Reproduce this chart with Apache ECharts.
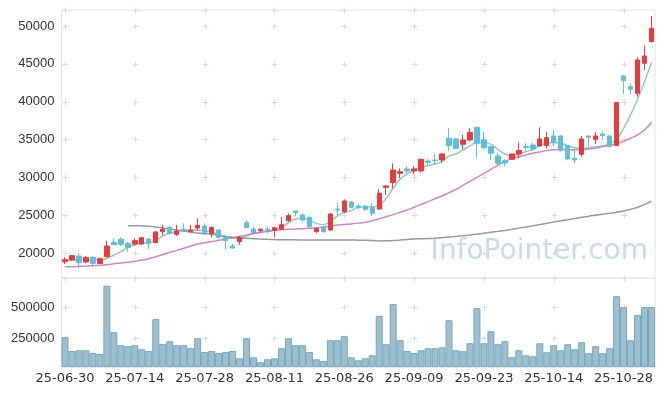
<!DOCTYPE html>
<html><head><meta charset="utf-8">
<script src="https://cdn.jsdelivr.net/npm/echarts@6/dist/echarts.min.js"></script>
<style>html,body{margin:0;padding:0;background:#fff}#c{width:665px;height:396px}</style>
</head><body><div id="c"></div>
<script>
const dates = ['25-06-30','25-07-01','25-07-02','25-07-03','25-07-04','25-07-07','25-07-08','25-07-09','25-07-10','25-07-11',
'25-07-14','25-07-15','25-07-16','25-07-17','25-07-18','25-07-21','25-07-22','25-07-23','25-07-24','25-07-25',
'25-07-28','25-07-29','25-07-30','25-07-31','25-08-01','25-08-04','25-08-05','25-08-06','25-08-07','25-08-08',
'25-08-11','25-08-12','25-08-13','25-08-14','25-08-18','25-08-19','25-08-20','25-08-21','25-08-22','25-08-25',
'25-08-26','25-08-27','25-08-28','25-08-29','25-09-01','25-09-02','25-09-03','25-09-04','25-09-05','25-09-08',
'25-09-09','25-09-10','25-09-11','25-09-12','25-09-15','25-09-16','25-09-17','25-09-18','25-09-19','25-09-22',
'25-09-23','25-09-24','25-09-25','25-09-26','25-09-29','25-09-30','25-10-01','25-10-02','25-10-10','25-10-13',
'25-10-14','25-10-15','25-10-16','25-10-17','25-10-20','25-10-21','25-10-22','25-10-23','25-10-24','25-10-27',
'25-10-28','25-10-29','25-10-30','25-10-31','25-11-03'];

const open = [18850,19080,19600,18810,19430,18630,19520,21410,21810,21280,
21190,21190,21850,21370,22820,23390,22470,23130,22820,23300,
23570,22560,23040,22160,20930,21500,24010,23170,22950,23130,
23000,23130,24280,25550,25020,24720,22820,23390,23040,25820,
25460,26740,26210,26210,26040,25820,28680,29300,30530,31100,
30840,30840,32160,32290,32290,35160,35070,34370,34940,36610,
34940,34060,32820,32200,32380,33090,34060,34280,34140,34190,
35470,35470,34190,32510,33040,35470,35030,35730,35470,34190,
43400,41990,41110,45070,47940];

const close = [19120,19650,18720,19430,18630,19250,20930,21100,21150,20750,
21630,22030,21230,22780,23130,22600,22910,22910,23040,23660,
22690,23390,22070,21630,20660,22070,23350,22690,23170,23000,
23350,23750,24940,25330,24360,23480,23220,22820,25160,25690,
26880,26040,26040,25770,25240,27890,28860,30970,30750,30840,
31110,32380,31990,32210,33090,34190,33840,34940,35950,34500,
33930,33180,31850,31900,33090,33530,33920,33750,35070,35250,
34590,33530,32430,32290,35070,35290,35470,35510,34060,39870,
42780,41640,45510,46040,49700];

const low = [18550,18990,18000,18630,18190,18550,19430,21060,20930,20180,
20970,21060,20490,21280,22380,22470,22250,22730,22690,22950,
22380,22070,21940,20490,20570,21060,23260,22600,22690,22600,
22070,23130,24140,24800,24140,23390,22600,22690,22950,24890,
25330,25900,25770,25600,24890,25680,27670,28550,29870,30530,
30440,30620,31500,31630,31940,33530,33700,33750,34760,32520,
33700,32290,31630,31500,32290,32510,33530,33530,34060,33840,
34140,33400,32290,31900,32730,34060,34410,34940,33970,34140,
41020,41020,40670,44190,47810];

const high = [19430,19740,19960,19600,19600,19430,21630,21940,22070,21500,
21940,22160,21940,22910,23700,23570,23700,23920,23700,24580,
23920,23480,23130,22380,21190,22250,24360,23480,23170,23480,
23480,24720,25240,25550,25240,24800,23390,23480,25240,26650,
27100,26870,26480,26350,26570,28420,28990,31850,31190,31410,
31500,32470,32380,33090,33180,36480,35160,35600,36480,36700,
36040,34150,33180,32400,33090,34590,34500,34590,36610,36040,
36260,35600,34280,33620,35470,35470,36000,36040,35600,39960,
43530,42430,45870,47450,51330];

const volume = [257900,147700,153000,153000,131500,123500,671800,298200,193400,185300,
193400,161100,147700,403000,204100,225600,193400,193400,169200,249800,
139600,147700,131500,139600,147700,88500,249800,96600,56300,80500,
88500,169200,249800,193400,193400,139600,80500,67000,233700,233700,
265900,96600,72400,88500,112700,429900,201400,524000,233700,147700,
131500,153000,169200,169200,177200,394900,153000,145000,209500,491700,
209500,306200,201400,225600,96600,153000,112700,104600,209500,136900,
193400,153000,201400,161100,217500,128800,185300,128800,169200,588500,
499800,233700,435300,499800,499800];

const ma5 = [19030,19080,19100,19100,19080,19100,19300,19740,20180,20750,
21100,21300,21400,21650,22250,22600,22850,23000,23040,23050,
22910,22780,22470,22070,21940,21940,22250,22600,22730,22860,
23040,23390,24000,24500,24600,24360,23920,23750,24140,24890,
25350,25600,26040,26120,26120,26340,27230,28550,29740,30440,
30970,31320,31550,31770,32070,32820,33090,33620,34150,34590,
34590,34350,33700,33090,32820,33090,33400,33700,34190,34500,
34590,34500,34190,33920,33840,33920,34060,34140,34410,35030,
36480,38240,40310,42650,45160];

const ma20 = [18190,18190,18240,18280,18330,18370,18460,18590,18680,18770,
18900,19080,19250,19520,19780,20090,20350,20620,20930,21190,
21370,21500,21680,21850,22030,22200,22380,22560,22730,22860,
23000,23090,23130,23170,23220,23260,23350,23440,23570,23700,
23770,23850,23950,24080,24270,24540,24800,25070,25380,25680,
26040,26430,26790,27180,27540,27980,28420,28950,29470,30000,
30530,31060,31590,32070,32470,32730,32960,33180,33350,33530,
33660,33700,33660,33660,33700,33750,33880,34060,34230,34450,
34760,35160,35600,36260,37270];

const ma60 = [null,null,null,null,null,null,null,null,null,23610,
23610,23570,23530,23440,23300,23170,23040,22910,22750,22640,
22560,22470,22340,22200,22070,21980,21940,21900,21850,21810,
21780,21760,21750,21740,21730,21720,21720,21720,21720,21720,
21720,21710,21700,21680,21640,21600,21620,21660,21720,21790,
21850,21880,21910,21960,22030,22110,22200,22290,22390,22500,
22620,22740,22860,22980,23130,23290,23440,23600,23760,23930,
24100,24250,24400,24560,24720,24870,25000,25130,25260,25400,
25560,25780,26050,26400,26850];

const priceTicks = [20000,25000,30000,35000,40000,45000,50000];
const volTicks = [250000,500000];
const watermark = 'InfoPointer.com';

const chart = echarts.init(document.getElementById('c'));
const candle = dates.map((d,i)=>[open[i], close[i], low[i], high[i]]);
const lbl = {color:'#333', fontFamily:'Liberation Sans', fontSize:13, margin:7, formatter:(v)=>String(v)};
chart.setOption({
  animation:false,
  grid:[
    {left:61.5, top:10, width:593.5, height:268, show:true, borderColor:'#e4e4e4', borderWidth:1},
    {left:61.5, top:278, width:593.5, height:88.7, show:true, borderColor:'#e4e4e4', borderWidth:1}
  ],
  xAxis:[
    {type:'category', data:dates, gridIndex:0, axisLine:{show:false}, axisTick:{show:false}, axisLabel:{show:false}, splitLine:{show:false}},
    {type:'category', data:dates, gridIndex:1, axisLine:{show:false}, axisTick:{show:false}, splitLine:{show:false},
     axisLabel:{interval:9, color:'#333', fontFamily:'DejaVu Sans', fontSize:13, margin:5}}
  ],
  yAxis:[
    {type:'value', gridIndex:0, min:16700, max:52110, axisLine:{show:false}, axisTick:{show:false}, splitLine:{show:false},
     axisLabel:Object.assign({customValues:priceTicks}, lbl)},
    {type:'value', gridIndex:1, min:21000, max:734000, axisLine:{show:false}, axisTick:{show:false}, splitLine:{show:false},
     axisLabel:Object.assign({customValues:volTicks}, lbl)}
  ],
  series:[
    {type:'candlestick', data:candle, barWidth:'70%', z:5,
     itemStyle:{color:'#eb3a3c', color0:'#5dbfd9', borderColor:'#eb3a3c', borderColor0:'#5dbfd9', borderWidth:1}},
    {type:'line', data:ma5, smooth:true, showSymbol:false, z:4, lineStyle:{color:'#8ccbbd', width:1.5}},
    {type:'line', data:ma20, smooth:true, showSymbol:false, z:4, lineStyle:{color:'#c98ac4', width:1.5}},
    {type:'line', data:ma60, smooth:true, showSymbol:false, z:4, lineStyle:{color:'#999999', width:1.5}},
    {type:'bar', xAxisIndex:1, yAxisIndex:1, data:volume, barCategoryGap:'0%',
     itemStyle:{color:'#9cc0d0', borderColor:'#78a6bc', borderWidth:1}}
  ]
});

const gfx = [];
const xIdx = [0,10,20,30,40,50,60,70,80];
function cross(x,y){
  gfx.push({type:'line', z:1, silent:true, shape:{x1:x-3,y1:y,x2:x+3,y2:y}, style:{stroke:'#dadada', lineWidth:1}});
  gfx.push({type:'line', z:1, silent:true, shape:{x1:x,y1:y-3,x2:x,y2:y+3}, style:{stroke:'#dadada', lineWidth:1}});
}
const xs = xIdx.map(i=>Math.round(chart.convertToPixel({xAxisIndex:0}, dates[i]))+0.5);
const pys = priceTicks.map(v=>Math.round(chart.convertToPixel({yAxisIndex:0}, v))+0.5);
const vys = volTicks.map(v=>Math.round(chart.convertToPixel({yAxisIndex:1}, v))+0.5);
xs.forEach(x=>{ pys.concat(vys).forEach(y=>cross(x,y)); cross(x,10.5); cross(x,278.5); });
gfx.push({type:'text', z:0, silent:true, right:17, top:238,
  style:{text:watermark, font:'28px "DejaVu Sans"', fill:'#c9dce6'}});
chart.setOption({graphic:gfx});
</script></body></html>
